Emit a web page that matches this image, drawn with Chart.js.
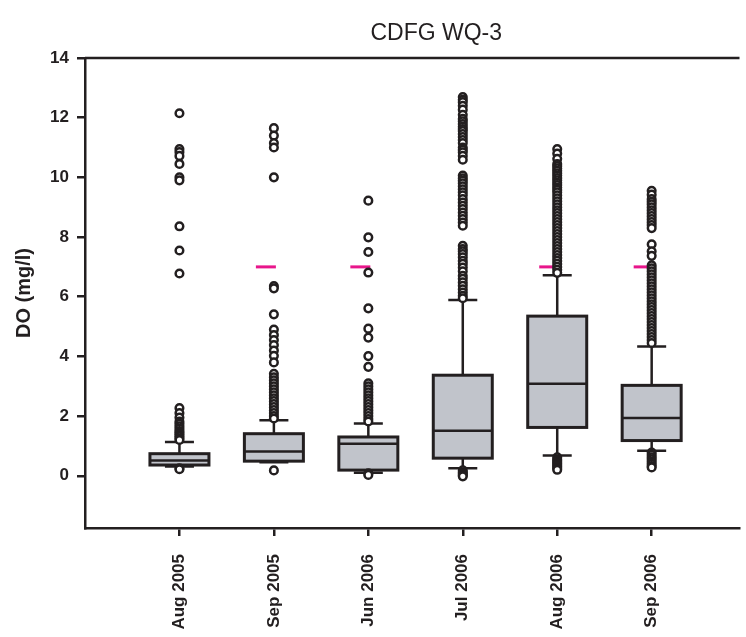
<!DOCTYPE html>
<html>
<head>
<meta charset="utf-8">
<title>CDFG WQ-3</title>
<script src="https://cdn.jsdelivr.net/npm/chart.js@4"></script>
<style>
  html, body { margin: 0; padding: 0; background: #fff; }
  #wrap { width: 746px; height: 637px; }
</style>
</head>
<body>
<div id="wrap"><canvas id="doChart" width="746" height="637"></canvas></div>
<script>
// Box plot summary, one entry per month
const categories = ["Aug 2005", "Sep 2005", "Jun 2006", "Jul 2006", "Aug 2006", "Sep 2006"];
const whiskerLow = [0.31, 0.45, 0.1, 0.25, 0.68, 0.84];
const q1 = [0.36, 0.49, 0.19, 0.59, 1.62, 1.18];
const median = [0.51, 0.81, 1.07, 1.51, 3.08, 1.94];
const q3 = [0.74, 1.41, 1.3, 3.37, 5.35, 3.03];
const whiskerHigh = [1.13, 1.86, 1.75, 5.89, 6.72, 4.33];
// DO standard (pink marks), only drawn for some months
const standard = [null, 7, 7, null, 7, 7];

// Outliers, per month
const outAug2005 = [12.15, 10.95, 10.85, 10.72, 10.45, 10.0, 9.9, 8.36, 7.55, 6.78,
  2.27, 2.1, 1.95, 1.82, 1.74, 1.66, 1.58, 1.5, 1.44, 1.38, 1.32, 1.26, 1.2, 0.25, 0.22];
const outSep2005 = [11.65, 11.4, 11.15, 11.0, 10.0, 6.36, 6.28, 5.41, 4.9, 4.72, 4.55, 4.38, 4.2, 4.02, 3.8,
  3.42, 3.3, 3.2, 3.1, 3.0, 2.9, 2.8, 2.7, 2.6, 2.5, 2.4, 2.3, 2.2, 2.1, 2.0, 1.92, 0.18];
const outJun2006 = [9.22, 7.99, 7.5, 6.81, 5.61, 4.93, 4.63, 4.01, 3.65,
  3.1, 3.0, 2.9, 2.8, 2.7, 2.6, 2.5, 2.4, 2.3, 2.2, 2.1, 2.0, 1.9, 1.82, 0.08, 0.03];
const outJul2006 = [12.69, 12.6, 12.52, 12.4, 12.27, 12.1, 11.96, 11.88, 11.79, 11.7, 11.62, 11.55, 11.45,
  11.35, 11.25, 11.15, 11.0, 10.92, 10.84, 10.72, 10.59,
  10.06, 9.97, 9.89, 9.8, 9.7, 9.6, 9.5, 9.4, 9.27, 9.16, 9.05, 8.94, 8.82, 8.71, 8.6, 8.49, 8.38,
  7.71, 7.6, 7.52, 7.43, 7.32, 7.2, 7.1, 6.98, 6.85, 6.7, 6.6, 6.48, 6.37, 6.25, 6.14, 6.03, 5.95,
  0.18, 0.12, 0.07, 0.02, -0.02];
const outAug2006 = [10.95, 10.8, 10.62, 10.45, 10.38, 10.3, 10.22, 10.14, 10.06, 9.98, 9.9, 9.82, 9.74,
  9.66, 9.58, 9.5, 9.4, 9.3, 9.2, 9.1, 9.0, 8.9, 8.8, 8.7, 8.6, 8.5, 8.4, 8.3, 8.2, 8.1, 8.0, 7.9,
  7.8, 7.7, 7.6, 7.5, 7.4, 7.3, 7.2, 7.1, 7.0, 6.9, 6.8,
  0.62, 0.55, 0.5, 0.45, 0.4, 0.35, 0.3, 0.25, 0.2];
const outSep2006 = [9.55, 9.42, 9.27, 9.18, 9.1, 9.0, 8.9, 8.8, 8.7, 8.6, 8.5, 8.4, 8.3,
  7.76, 7.52, 7.37, 7.05, 6.95, 6.85, 6.75, 6.65, 6.55, 6.45, 6.35, 6.25, 6.15, 6.05, 5.95,
  5.85, 5.75, 5.65, 5.55, 5.45, 5.35, 5.25, 5.15, 5.05, 4.95, 4.85, 4.75, 4.65, 4.55, 4.45,
  0.78, 0.7, 0.62, 0.55, 0.48, 0.4, 0.33, 0.28];
const outliers = [outAug2005, outSep2005, outJun2006, outJul2006, outAug2006, outSep2006];

const yTicks = [0, 2, 4, 6, 8, 10, 12, 14];
const chartTitle = "CDFG WQ-3";

const INK = "#231f20";
const BOX_FILL = "#c1c4cb";
const PINK = "#e8168b";
const FONT = "'Liberation Sans', Arial, sans-serif";

const outlierPoints = [];
outliers.forEach((list, i) => list.forEach((v) => outlierPoints.push({ x: i + 1, y: v })));

// boxes, whiskers, title and the standard marks, drawn under the outlier points
const boxPlugin = {
  id: "boxes",
  beforeDatasetsDraw(chart) {
    const { ctx, chartArea, scales } = chart;
    const x = scales.x, y = scales.y;
    const boxHalf = 29.5, capHalf = 14.5;
    ctx.save();

    // title
    ctx.fillStyle = INK;
    ctx.font = "23px " + FONT;
    ctx.textAlign = "center";
    ctx.textBaseline = "middle";
    ctx.fillText(chartTitle, (chartArea.left + chartArea.right) / 2 + 24, 34);

    // top frame line
    ctx.strokeStyle = INK;
    ctx.lineWidth = 2.5;
    ctx.beginPath();
    ctx.moveTo(chartArea.left, chartArea.top);
    ctx.lineTo(chartArea.right, chartArea.top);
    ctx.stroke();

    categories.forEach((_, i) => {
      const cx = x.getPixelForValue(i + 1);

      if (standard[i] !== null) {
        const sy = y.getPixelForValue(standard[i]);
        ctx.strokeStyle = PINK;
        ctx.lineWidth = 3;
        ctx.beginPath();
        ctx.moveTo(cx - 18, sy);
        ctx.lineTo(cx + 2, sy);
        ctx.stroke();
      }

      ctx.strokeStyle = INK;
      ctx.lineWidth = 2.5;
      const yLo = y.getPixelForValue(whiskerLow[i]);
      const yQ1 = y.getPixelForValue(q1[i]);
      const yMed = y.getPixelForValue(median[i]);
      const yQ3 = y.getPixelForValue(q3[i]);
      const yHi = y.getPixelForValue(whiskerHigh[i]);

      ctx.beginPath();
      ctx.moveTo(cx, yQ3); ctx.lineTo(cx, yHi);
      ctx.moveTo(cx - capHalf, yHi); ctx.lineTo(cx + capHalf, yHi);
      ctx.moveTo(cx, yQ1); ctx.lineTo(cx, yLo);
      ctx.moveTo(cx - capHalf, yLo); ctx.lineTo(cx + capHalf, yLo);
      ctx.stroke();

      ctx.fillStyle = BOX_FILL;
      ctx.fillRect(cx - boxHalf, yQ3, boxHalf * 2, yQ1 - yQ3);
      ctx.lineWidth = 3;
      ctx.strokeRect(cx - boxHalf, yQ3, boxHalf * 2, yQ1 - yQ3);
      ctx.lineWidth = 2.5;
      ctx.beginPath();
      ctx.moveTo(cx - boxHalf, yMed); ctx.lineTo(cx + boxHalf, yMed);
      ctx.stroke();
    });
    ctx.restore();
  },
};

new Chart(document.getElementById("doChart"), {
  type: "scatter",
  data: {
    datasets: [
      {
        label: "Outliers",
        data: outlierPoints,
        pointRadius: 3.8,
        pointBorderWidth: 2.5,
        borderColor: INK,
        backgroundColor: "#ffffff",
      },
    ],
  },
  options: {
    responsive: false,
    animation: false,
    layout: { padding: { left: 0, right: 0, top: 58, bottom: 0 } },
    plugins: {
      legend: { display: false },
      tooltip: { enabled: false },
      title: { display: false },
    },
    scales: {
      x: {
        type: "linear",
        min: 0,
        max: 6.93,
        afterBuildTicks: (s) => { s.ticks = categories.map((_, i) => ({ value: i + 1 })); },
        afterFit: (s) => { s.height = 109; },
        border: { display: true, color: INK, width: 2.5 },
        grid: { display: true, drawOnChartArea: false, drawTicks: true, tickLength: 8, color: INK, lineWidth: 2.5 },
        ticks: {
          autoSkip: false,
          minRotation: 90,
          maxRotation: 90,
          padding: 18,
          color: INK,
          font: { family: FONT, size: 17, weight: "bold" },
          callback: (v) => categories[v - 1] || "",
        },
      },
      y: {
        min: -1.75,
        max: 14,
        afterBuildTicks: (s) => { s.ticks = yTicks.map((v) => ({ value: v })); },
        afterFit: (s) => { s.width = 85; },
        border: { display: true, color: INK, width: 2.5 },
        grid: { display: true, drawOnChartArea: false, drawTicks: true, tickLength: 8, color: INK, lineWidth: 2.5 },
        ticks: {
          padding: 8,
          color: INK,
          font: { family: FONT, size: 17, weight: "bold" },
        },
        title: {
          display: true,
          text: "DO (mg/l)",
          color: INK,
          font: { family: FONT, size: 20, weight: "bold" },
          padding: { top: 12, bottom: 0 },
        },
      },
    },
  },
  plugins: [boxPlugin],
});
</script>
</body>
</html>
